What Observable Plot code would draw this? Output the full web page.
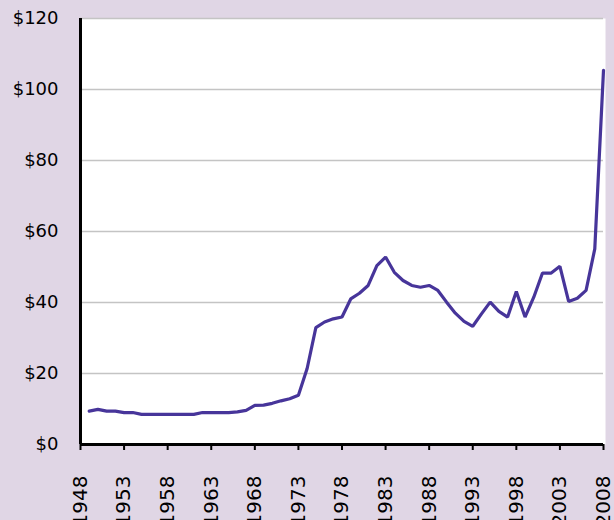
<!DOCTYPE html>
<html>
<head>
<meta charset="utf-8">
<script src="https://cdn.jsdelivr.net/npm/d3@7"></script>
<script src="https://cdn.jsdelivr.net/npm/@observablehq/plot@0.6"></script>
<style>
  html, body { margin: 0; padding: 0; background: #e0d6e5; }
  #chart svg { display: block; }
</style>
</head>
<body>
<div id="chart"></div>
<script>
const years = d3.range(1949, 2009);
const prices = [
  9.4, 9.9, 9.4, 9.4, 9.0, 9.0, 8.5, 8.5, 8.5, 8.5,
  8.5, 8.5, 8.5, 9.0, 9.0, 9.0, 9.0, 9.2, 9.6, 11.0,
  11.1, 11.6, 12.3, 12.9, 13.9, 21.4, 32.9, 34.5, 35.4, 35.9,
  41.0, 42.6, 44.8, 50.4, 52.8, 48.5, 46.2, 44.8, 44.3, 44.8,
  43.4, 40.1, 37.0, 34.7, 33.3, 36.8, 40.1, 37.5, 35.9, 43.1,
  35.9, 41.5, 48.3, 48.3, 50.2, 40.3, 41.2, 43.4, 55.1, 105.4
];
const xTicks = [1948, 1953, 1958, 1963, 1968, 1973, 1978, 1983, 1988, 1993, 1998, 2003, 2008];
const yTicks = [0, 20, 40, 60, 80, 100, 120];

const data = years.map((y, i) => ({year: y, price: prices[i]}));

const chart = Plot.plot({
  width: 614,
  height: 520,
  marginLeft: 80,
  marginRight: 11,
  marginTop: 18,
  marginBottom: 76,
  style: {background: "#e0d6e5", fontFamily: "'DejaVu Sans', sans-serif", color: "#000"},
  x: {domain: [1948, 2008]},
  y: {domain: [0, 120]},
  marks: [
    Plot.frame({fill: "white", stroke: null, insetRight: -2}),
    Plot.gridY(yTicks, {stroke: "#c4c4c4", strokeOpacity: 1, strokeWidth: 1.5}),
    Plot.axisY(yTicks, {tickSize: 0, tickPadding: 22, tickFormat: d => "$" + d, fontSize: 18, label: null}),
    Plot.axisX(xTicks, {tickSize: 6, tickPadding: 25, tickRotate: -90, tickFormat: d => String(d), fontSize: 20, strokeWidth: 2, label: null}),
    Plot.line(data, {x: "year", y: "price", stroke: "#47359a", strokeWidth: 3.2, strokeLinejoin: "miter"}),
    Plot.ruleX([1948], {stroke: "#000", strokeWidth: 3}),
    Plot.ruleY([0], {stroke: "#000", strokeWidth: 3})
  ]
});
document.getElementById("chart").append(chart);
</script>
</body>
</html>
